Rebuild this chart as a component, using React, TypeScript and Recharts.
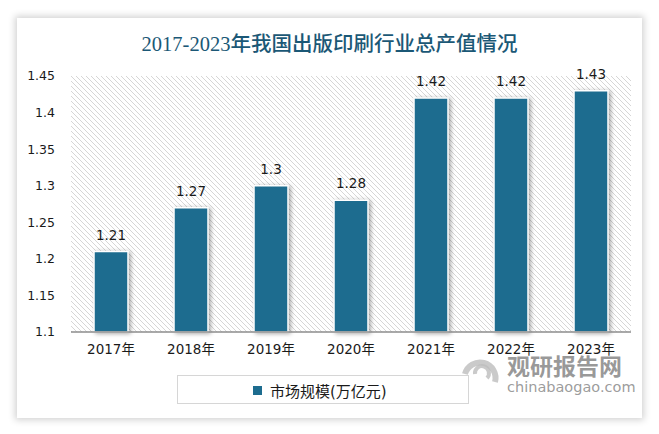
import React from 'react';
import { BarChart, Bar, XAxis, YAxis, CartesianGrid, LabelList } from 'recharts';

const years = ['2017年', '2018年', '2019年', '2020年', '2021年', '2022年', '2023年'];
const marketSize = [1.21, 1.27, 1.3, 1.28, 1.42, 1.42, 1.43];
const yTicks = [1.1, 1.15, 1.2, 1.25, 1.3, 1.35, 1.4, 1.45];

const BAR_COLOR = '#1d6c8f';
const data = years.map((year, i) => ({ year, value: marketSize[i] }));

const App: React.FC = () => {
  return (
    <div style={{ position: 'absolute', left: 0, top: 0, width: 659, height: 434, background: '#fff', overflow: 'hidden' }}>
      <style>{`.recharts-bar-rectangle path { filter: drop-shadow(2px 1px 2px rgba(0,0,0,0.35)); }`}</style>
      {/* hatch pattern for the plot background */}
      <svg width={0} height={0} style={{ position: 'absolute' }}>
        <defs>
          <pattern id="hatch" patternUnits="userSpaceOnUse" width={5} height={5}>
            <rect width={5} height={5} fill="#fff" />
            <path d="M-1,-1 L6,6 M-1,4 L1,6 M4,-1 L6,1" stroke="#d6d6d6" strokeWidth={1} />
          </pattern>
        </defs>
      </svg>

      {/* card */}
      <div style={{
        position: 'absolute', left: 17, top: 18, width: 625, height: 400,
        background: '#fff', boxShadow: '0 0 7px 2px rgba(0,0,0,0.18)'
      }} />

      <div style={{
        position: 'absolute', left: 17, top: 27, width: 625, textAlign: 'center',
        fontFamily: "'Liberation Serif', 'Noto Sans CJK SC', serif", fontSize: 20.5, fontWeight: 500, color: '#1b5876'
      }}>
        2017-2023年我国出版印刷行业总产值情况
      </div>

      <div style={{ position: 'absolute', left: 0, top: 0 }}>
        <BarChart width={659} height={434} data={data} margin={{ top: 76, right: 28, bottom: 72, left: 31 }}>
          <CartesianGrid horizontal={false} vertical={false} fill="url(#hatch)" />
          <XAxis
            dataKey="year"
            axisLine={{ stroke: '#8c8c8c', strokeWidth: 1.5 }}
            tickLine={false}
            height={30}
            tick={{ fill: '#1a1a1a', fontSize: 13.5, fontFamily: 'DejaVu Sans, Noto Sans CJK SC' }}
            tickMargin={6}
          />
          <YAxis
            domain={[1.1, 1.45]}
            ticks={yTicks}
            width={40}
            axisLine={false}
            tickLine={false}
            tickMargin={10}
            tick={{ fill: '#1a1a1a', fontSize: 12.5, fontFamily: 'DejaVu Sans' }}
          />
          <Bar dataKey="value" fill={BAR_COLOR} stroke="#fff" strokeWidth={1.5} barSize={34} isAnimationActive={false}>
            <LabelList dataKey="value" position="top" offset={12} fill="#1a1a1a" fontSize={13.5} fontFamily="DejaVu Sans" />
          </Bar>
        </BarChart>
      </div>

      {/* legend */}
      <div style={{
        position: 'absolute', left: 177, top: 375, width: 292, height: 29,
        border: '1px solid #d6d6d6', boxSizing: 'border-box'
      }}>
        <div style={{ position: 'absolute', left: 75, top: 10, width: 9, height: 9, background: BAR_COLOR }} />
        <div style={{
          position: 'absolute', left: 92, top: 4, fontSize: 15, color: '#1a1a1a',
          fontFamily: "'DejaVu Sans', 'Noto Sans CJK SC', sans-serif", whiteSpace: 'nowrap'
        }}>
          市场规模(万亿元)
        </div>
      </div>

      {/* watermark */}
      <svg style={{ position: 'absolute', left: 455, top: 352 }} width={54} height={42}>
        <path d="M10,22 A15,15 0 1,1 40,30" fill="none" stroke="#bdbdbd" strokeWidth={6} opacity={0.8} />
        <path d="M20,22 A7,7 0 1,1 32,26" fill="none" stroke="#bdbdbd" strokeWidth={4} opacity={0.8} />
      </svg>
      <div style={{
        position: 'absolute', left: 507, top: 352, fontSize: 23, fontWeight: 'bold', color: 'rgba(120,120,120,0.75)',
        fontFamily: "'Noto Sans CJK SC', sans-serif", letterSpacing: 0, whiteSpace: 'nowrap', lineHeight: '26px'
      }}>
        观研报告网
      </div>
      <div style={{
        position: 'absolute', left: 507, top: 379, fontSize: 14.5, color: 'rgba(130,130,130,0.8)',
        fontFamily: "'DejaVu Sans', sans-serif", whiteSpace: 'nowrap', lineHeight: '16px'
      }}>
        chinabaogao.com
      </div>
    </div>
  );
};

export default App;
